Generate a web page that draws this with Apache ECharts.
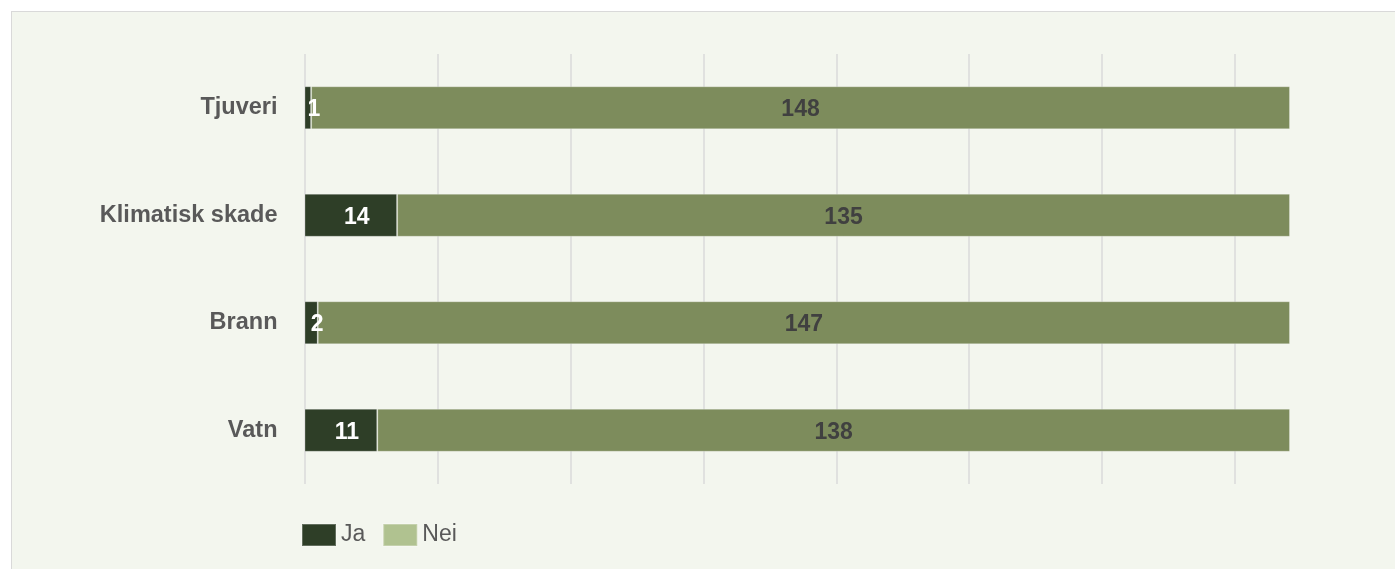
<!DOCTYPE html>
<html><head><meta charset="utf-8">
<script src="https://cdn.jsdelivr.net/npm/echarts@6/dist/echarts.min.js"></script>
<style>
html,body{margin:0;padding:0;background:#fff;width:1395px;height:569px;overflow:hidden;}
#panel{position:absolute;left:11px;top:11px;width:1400px;height:600px;background:#f3f6ee;border:1px solid #d9d9d9;}
#chart{position:absolute;left:0;top:0;width:1395px;height:569px;}
</style></head>
<body>
<div id="panel"></div>
<div id="chart"></div>
<script>
const categories = ['Tjuveri', 'Klimatisk skade', 'Brann', 'Vatn'];
const jaValues = [1, 14, 2, 11];
const neiValues = [148, 135, 147, 138];
const seriesNames = ['Ja', 'Nei'];

const chart = echarts.init(document.getElementById('chart'), null, {renderer: 'canvas'});
const font = '"Liberation Sans", Arial, sans-serif';
const gridColors = ['#dadada','#dadada','#dadada','#dadada','#dadada','#dadada','#dadada','#dadada','rgba(0,0,0,0)'];
chart.setOption({
  backgroundColor: 'transparent',
  textStyle: {fontFamily: font},
  animation: false,
  grid: {left: 304.5, right: 105, top: 54, bottom: 85, containLabel: false},
  xAxis: {
    type: 'value', min: 0, max: 149, interval: 20.1,
    axisLabel: {show: false}, axisTick: {show: false}, axisLine: {show: false},
    splitLine: {show: true, lineStyle: {color: gridColors, width: 1.5}}
  },
  yAxis: {
    type: 'category', data: categories, inverse: true,
    axisLine: {show: false}, axisTick: {show: false},
    axisLabel: {color: '#595959', fontSize: 23.5, fontWeight: 'bold', margin: 27, padding: [4, 0, 0, 0], fontFamily: font}
  },
  legend: {
    left: 301, top: 523, padding: 0, itemWidth: 34, itemHeight: 22, itemGap: 17,
    textStyle: {color: '#595959', fontSize: 23, fontFamily: font},
    data: [{name: 'Ja', icon: 'rect'}, {name: 'Nei', icon: 'rect', itemStyle: {color: '#b0c290'}}]
  },
  series: [
    {
      name: seriesNames[0], type: 'bar', stack: 'total', data: jaValues, barWidth: 43,
      itemStyle: {color: '#2e3e27', borderColor: 'rgba(255,255,255,0.25)', borderWidth: 1},
      label: {show: true, position: 'inside', offset: [6, 2], color: '#ffffff', fontSize: 23, fontWeight: 'bold', fontFamily: font}
    },
    {
      name: seriesNames[1], type: 'bar', stack: 'total', data: neiValues, barWidth: 43,
      itemStyle: {color: '#7d8c5c', borderColor: 'rgba(255,255,255,0.25)', borderWidth: 1},
      label: {show: true, position: 'inside', offset: [0, 2], color: '#404040', fontSize: 23, fontWeight: 'bold', fontFamily: font}
    }
  ]
});
</script>
</body></html>
